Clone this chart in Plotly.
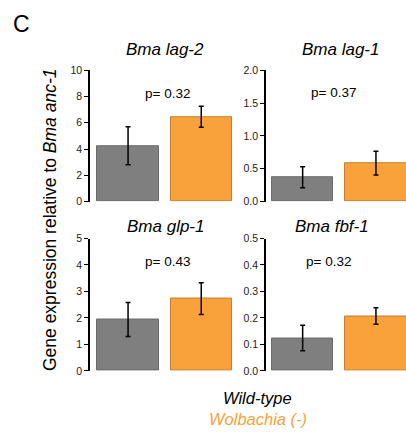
import plotly.graph_objects as go

# ---- data ----
genes = ["lag-2", "lag-1", "glp-1", "fbf-1"]
groups = ["Wild-type", "Wolbachia (-)"]
wild_type = [4.25, 0.37, 1.94, 0.124]
wild_type_err = [1.45, 0.16, 0.64, 0.048]
wolbachia_neg = [6.45, 0.585, 2.73, 0.207]
wolbachia_neg_err = [0.80, 0.18, 0.60, 0.031]
p_values = ["0.32", "0.37", "0.43", "0.32"]
y_max = [10, 2.0, 5, 0.5]
y_dtick = [2, 0.5, 1, 0.1]
y_fmt = ["d", ".1f", "d", ".1f"]

W, H = 406, 443
def px(x):
    return x / W
def py(y):
    return 1 - y / H

GRAY = "#7f7f7f"
GRAY_LINE = "#6b6b6b"
ORANGE = "#f9a23b"
ORANGE_LINE = "#c47f30"
FONT = "Liberation Sans, Arial, sans-serif"

# layout geometry (pixels)
x_doms = [(90, 232), (266, 406), (90, 232), (266, 406)]
x_ranges = [[-0.52, 1.42], [-0.5, 1.41], [-0.52, 1.42], [-0.5, 1.41]]
y_doms = [(66, 201), (66, 201), (239, 375), (239, 375)]
title_pos = [(165, 45), (340, 45), (165, 227), (332, 227)]
p_pos = [(167, 90), (333, 89), (167, 263), (328, 263)]

fig = go.Figure()
annotations = []
layout = {}
for i in range(4):
    ax = "" if i == 0 else str(i + 1)
    fig.add_trace(go.Bar(
        x=[0, 1],
        y=[wild_type[i], wolbachia_neg[i]],
        width=0.84,
        marker=dict(color=[GRAY, ORANGE],
                    line=dict(color=[GRAY_LINE, ORANGE_LINE], width=1)),
        error_y=dict(type="data", symmetric=False,
                     array=[wild_type_err[i], wolbachia_neg_err[i]],
                     arrayminus=[wild_type_err[i], wolbachia_neg_err[i]],
                     color="black", thickness=1.5, width=2.5),
        xaxis="x" + ax, yaxis="y" + ax, showlegend=False,
        hoverinfo="skip",
    ))
    layout["xaxis" + ax] = dict(
        domain=[px(x_doms[i][0]), min(1, px(x_doms[i][1]))],
        range=x_ranges[i], showticklabels=False, ticks="",
        showline=False, showgrid=False, zeroline=False,
        anchor="y" + ax, fixedrange=True,
    )
    layout["yaxis" + ax] = dict(
        domain=[py(y_doms[i][1]), py(y_doms[i][0])],
        range=[0, y_max[i]], dtick=y_dtick[i], tick0=0, tickformat=y_fmt[i],
        showline=True, linecolor="black", linewidth=1.5,
        ticks="outside", ticklen=4, tickwidth=1, tickcolor="black",
        tickfont=dict(size=10.5, color="#222222", family=FONT),
        showgrid=False, zeroline=False, anchor="x" + ax,
    )
    annotations.append(dict(
        text="<i>Bma " + genes[i] + "</i>", x=px(title_pos[i][0]), y=py(title_pos[i][1]),
        xref="paper", yref="paper", showarrow=False, xanchor="center", yanchor="middle",
        font=dict(size=17, color="black", family=FONT)))
    annotations.append(dict(
        text="p= " + p_values[i], x=px(p_pos[i][0]), y=py(p_pos[i][1]),
        xref="paper", yref="paper", showarrow=False, xanchor="center", yanchor="middle",
        font=dict(size=13.5, color="black", family=FONT)))

annotations.append(dict(
    text="C", x=px(21), y=py(19), xref="paper", yref="paper", showarrow=False,
    xanchor="center", yanchor="middle", font=dict(size=23, color="black", family=FONT)))
annotations.append(dict(
    text="Gene expression relative to <i>Bma anc-1</i>", x=px(50), y=py(220),
    xref="paper", yref="paper", showarrow=False, textangle=-90,
    xanchor="center", yanchor="middle", font=dict(size=17.5, color="black", family=FONT)))
annotations.append(dict(
    text="<i>" + groups[0] + "</i>", x=px(257), y=py(403), xref="paper", yref="paper",
    showarrow=False, xanchor="center", yanchor="middle",
    font=dict(size=16.5, color="black", family=FONT)))
annotations.append(dict(
    text="<i>" + groups[1] + "</i>", x=px(258), y=py(424), xref="paper", yref="paper",
    showarrow=False, xanchor="center", yanchor="middle",
    font=dict(size=16.5, color=ORANGE, family=FONT)))

fig.update_layout(
    width=W, height=H, margin=dict(l=0, r=0, t=0, b=0),
    paper_bgcolor="white", plot_bgcolor="white",
    annotations=annotations, bargap=0, **layout,
)
fig.write_html(
    "out.html",
    config={"displayModeBar": False},
    post_script="document.body.style.margin='0px';document.documentElement.style.overflow='hidden';document.body.style.overflow='hidden';",
)
